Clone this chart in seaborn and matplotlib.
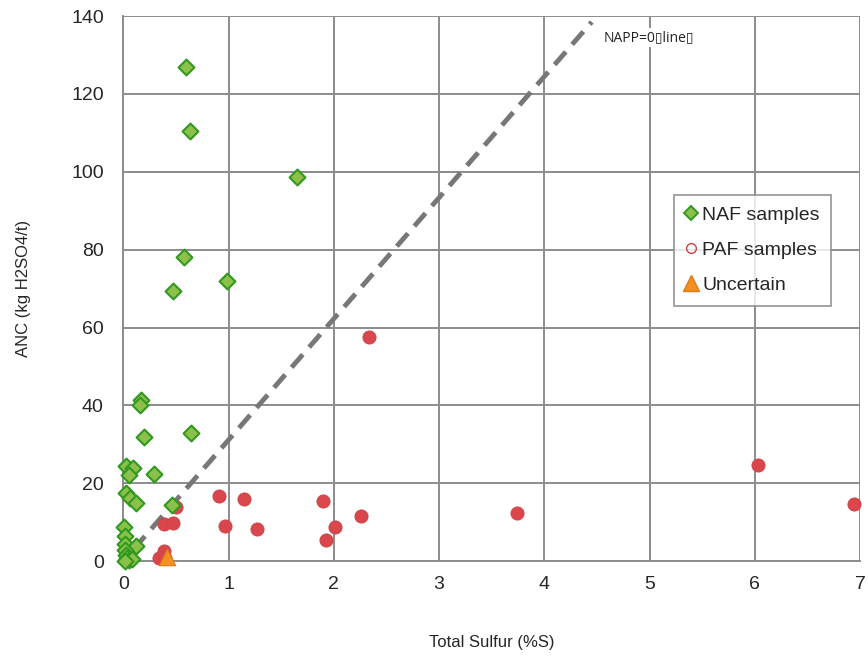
import pandas as pd
import numpy as np

import matplotlib.pyplot as plt
from matplotlib.lines import Line2D
import seaborn as sns

# total sulfur (%S) and ANC (kg H2SO4/t)
naf_s = [0.60, 0.63, 1.65, 0.58, 0.47, 0.99, 0.17, 0.16, 0.20, 0.64,
         0.29, 0.03, 0.09, 0.05, 0.03, 0.06, 0.12, 0.46,
         0.01, 0.02, 0.02, 0.12, 0.02, 0.03, 0.04, 0.05, 0.08, 0.02]
naf_anc = [127.0, 110.5, 98.7, 78.0, 69.5, 72.0, 41.5, 40.0, 32.0, 33.0,
           22.3, 24.5, 23.8, 22.0, 17.4, 16.1, 15.0, 14.4,
           8.7, 6.4, 4.5, 3.8, 2.8, 1.5, 0.8, 0.2, 0.6, 0.0]

paf_s = [2.33, 6.03, 6.94, 3.74, 0.91, 1.15, 1.90, 2.26, 0.97, 1.27,
         2.01, 0.50, 0.39, 0.47, 1.93, 0.39, 0.34, 0.40]
paf_anc = [57.5, 24.7, 14.6, 12.4, 16.7, 15.9, 15.5, 11.5, 9.0, 8.3,
           8.7, 13.8, 9.5, 9.8, 5.5, 2.6, 0.7, 0.9]

unc_s = [0.42]
unc_anc = [1.0]

# NAPP = 0 line
napp_s = [0.1, 4.45]
napp_anc = [3.1, 138.5]

naf = pd.DataFrame({'s': naf_s, 'anc': naf_anc})
paf = pd.DataFrame({'s': paf_s, 'anc': paf_anc})
unc = pd.DataFrame({'s': unc_s, 'anc': unc_anc})

sns.set_style('white')
plt.rcParams['font.family'] = ['Liberation Sans', 'DejaVu Sans']

fig = plt.figure(figsize=(8.68, 6.57), dpi=100)
ax = fig.add_axes([0.142, 0.146, 0.849, 0.8295])

grid_col = '#8c8c8c'
ax.set_xlim(0, 7)
ax.set_ylim(0, 140)
ax.set_xticks(range(0, 8))
ax.set_yticks(range(0, 141, 20))
ax.grid(True, color=grid_col, linewidth=1.4)
ax.set_axisbelow(True)
for side in ['top', 'right']:
    ax.spines[side].set_visible(False)
for side in ['left', 'bottom']:
    ax.spines[side].set_color(grid_col)
    ax.spines[side].set_linewidth(1.4)
ax.tick_params(axis='both', length=6, width=1.4, color=grid_col,
               labelsize=14, direction='out')
ax.tick_params(axis='y', pad=8)
ax.tick_params(axis='x', pad=5)

sns.lineplot(x=napp_s, y=napp_anc, ax=ax, color='#777777', linewidth=3.5,
             linestyle=(0, (3.5, 2.0)), legend=False)

sns.scatterplot(data=paf, x='s', y='anc', ax=ax, marker='o', s=90,
                color='#d9474c', edgecolor='#c94347', linewidth=0.6,
                zorder=3, legend=False, clip_on=False)
sns.scatterplot(data=naf, x='s', y='anc', ax=ax, marker='D', s=65,
                color='#8dbf4b', edgecolor='#2f9a1e', linewidth=1.5,
                zorder=4, legend=False, clip_on=False)
sns.scatterplot(data=unc, x='s', y='anc', ax=ax, marker='^', s=140,
                color='#f39022', edgecolor='#e07a12', linewidth=0.8,
                zorder=5, legend=False, clip_on=False)

ax.text(4.56, 134.5, 'NAPP=0\u25afline\u25af', fontsize=10,
        family=['Open Sans', 'DejaVu Sans'], color='#222222', va='center',
        bbox=dict(facecolor='white', edgecolor='none', pad=1.5))

handles = [
    Line2D([], [], marker='D', linestyle='none', markersize=7,
           markerfacecolor='#8dbf4b', markeredgecolor='#2f9a1e', markeredgewidth=1.4),
    Line2D([], [], marker='o', linestyle='none', markersize=7,
           markerfacecolor='none', markeredgecolor='#c94347', markeredgewidth=1.0),
    Line2D([], [], marker='^', linestyle='none', markersize=11,
           markerfacecolor='#f39022', markeredgecolor='#e07a12'),
]
leg = ax.legend(handles, ['NAF samples', 'PAF samples', 'Uncertain'],
                loc='upper left', bbox_to_anchor=(0.734, 0.69), fontsize=14,
                frameon=True, fancybox=False, handlelength=0.6,
                handletextpad=0.25, borderpad=0.6, labelspacing=0.9)
leg.get_frame().set_edgecolor('#8c8c8c')
leg.get_frame().set_linewidth(1.4)

ax.set_xlabel('Total Sulfur (%S)', fontsize=12, labelpad=30)
ax.set_ylabel('ANC (kg H2SO4/t)', fontsize=12, labelpad=29)

plt.savefig('out.png', dpi=100)
